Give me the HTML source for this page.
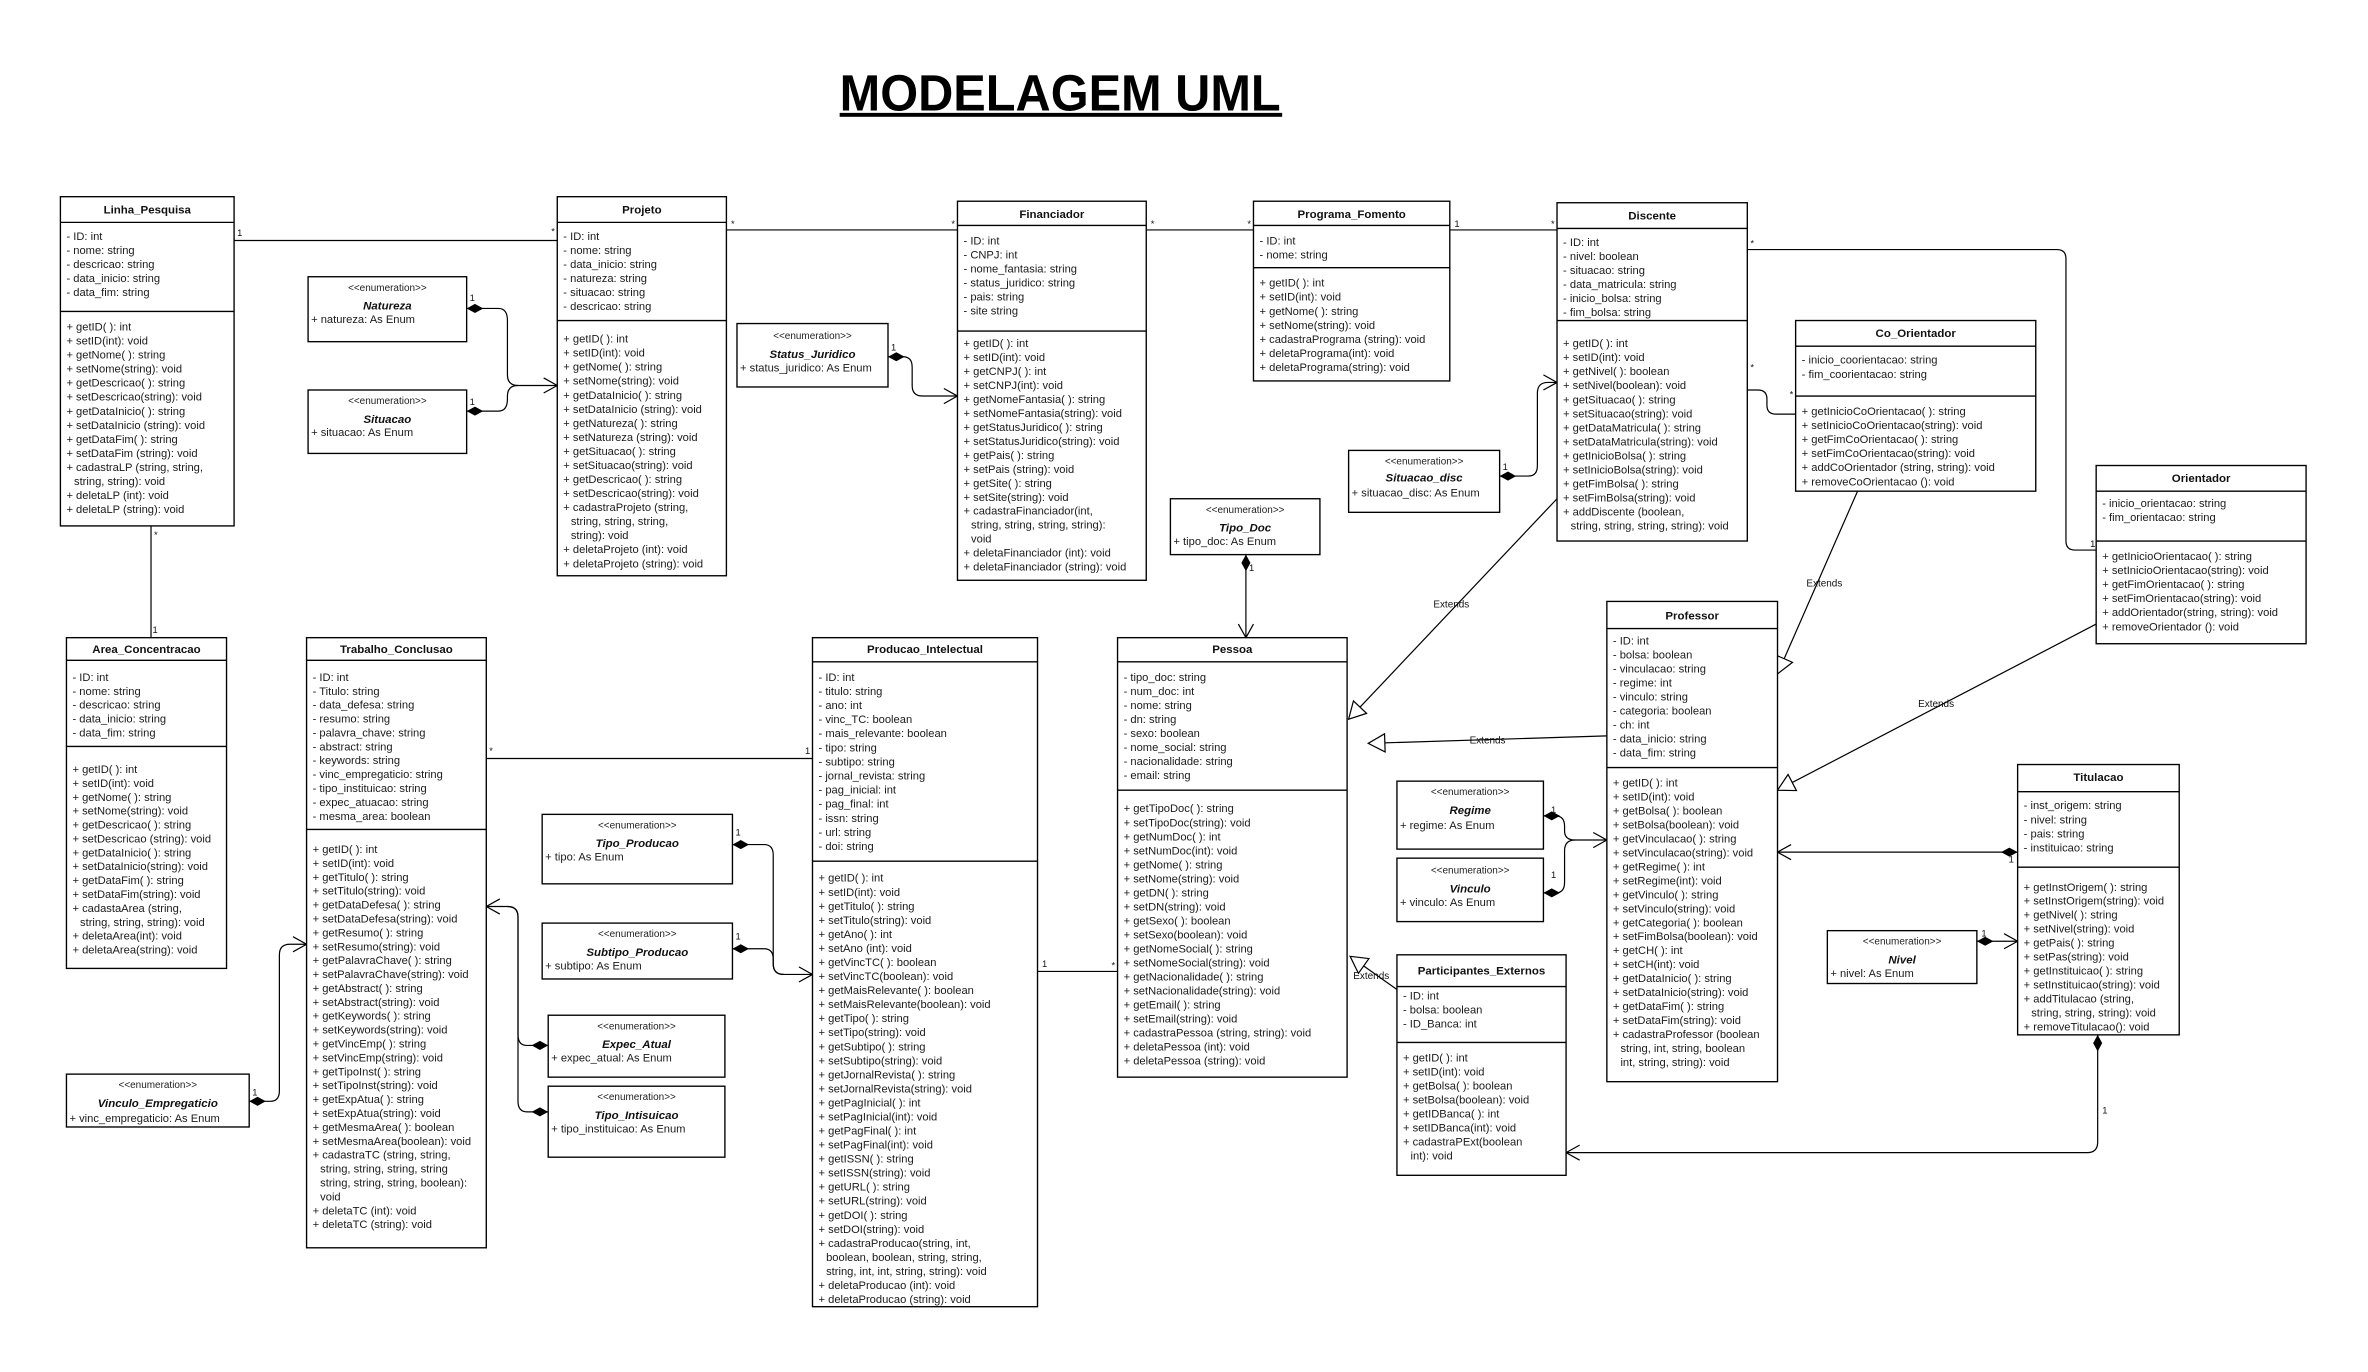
<!DOCTYPE html>
<html><head><meta charset="utf-8"><style>
html,body{margin:0;padding:0;background:#fff;}
svg{display:block;}
.t{font-family:"Liberation Sans",Arial,sans-serif;font-size:7.4px;fill:#1a1a1a;}
.h{font-family:"Liberation Sans",Arial,sans-serif;font-size:7.6px;font-weight:bold;fill:#111;text-anchor:middle;}
.s{font-family:"Liberation Sans",Arial,sans-serif;font-size:6.6px;fill:#222;text-anchor:middle;}
.n{font-family:"Liberation Sans",Arial,sans-serif;font-size:7.6px;font-weight:bold;font-style:italic;fill:#111;text-anchor:middle;}
.m{font-family:"Liberation Sans",Arial,sans-serif;font-size:6.2px;fill:#111;}
.e{font-family:"Liberation Sans",Arial,sans-serif;font-size:6.6px;fill:#111;text-anchor:middle;}
rect{fill:#fff;stroke:#000;stroke-width:0.9;}
.sep{stroke:#000;stroke-width:0.9;}
.c{fill:none;stroke:#000;stroke-width:0.8;}
</style></head><body>
<svg width="2368" height="1372" viewBox="0 0 1568 908" xmlns="http://www.w3.org/2000/svg">
<defs>
<marker id="a" markerWidth="12" markerHeight="12" refX="10" refY="6" orient="auto" markerUnits="userSpaceOnUse"><path d="M1,1 L10,6 L1,11" fill="none" stroke="#000" stroke-width="0.8"/></marker>
<marker id="d" markerWidth="14" markerHeight="8" refX="1" refY="4" orient="auto" markerUnits="userSpaceOnUse"><path d="M1,4 L6.5,1 L12,4 L6.5,7Z" fill="#000"/></marker>
<marker id="tr" markerWidth="14" markerHeight="14" refX="12" refY="7" orient="auto" markerUnits="userSpaceOnUse"><path d="M1,1 L12,7 L1,13Z" fill="#fff" stroke="#000" stroke-width="0.8"/></marker>
</defs>
<rect x="0" y="0" width="1568" height="908" style="fill:#fff;stroke:none"/>

<text x="702" y="73" text-anchor="middle" textLength="292" lengthAdjust="spacingAndGlyphs" style="font-family:'Liberation Sans',Arial,sans-serif;font-size:34px;font-weight:bold;fill:#000">MODELAGEM UML</text>
<rect x="556" y="74.5" width="293" height="2.6" style="fill:#000;stroke:none"/>

<path class="c" d="M155,159 H369"/>
<path class="c" d="M481,152 H634"/>
<path class="c" d="M759,152 H830"/>
<path class="c" d="M960,152 H1031"/>
<path class="c" d="M100,348 V422"/>
<path class="c" d="M322,502 H538"/>
<path class="c" d="M687,643 H740"/>
<path class="c" marker-start="url(#d)" marker-end="url(#a)" d="M309,204 H330 Q336,204 336,212 V248 Q336,255 343,255 H369"/>
<path class="c" marker-start="url(#d)" d="M309,272 H330 Q336,272 336,264 V262 Q336,255 343,255"/>
<path class="c" marker-start="url(#d)" marker-end="url(#a)" d="M588,236 H598 Q604,236 604,243 V255 Q604,262 611,262 H634"/>
<path class="c" marker-start="url(#d)" marker-end="url(#a)" d="M993,315 H1012 Q1018,315 1018,308 V260 Q1018,253 1025,253 H1031"/>
<path class="c" d="M1157,258 H1164 Q1170,258 1170,264 V268 Q1170,274 1176,274 H1189"/>
<path class="c" d="M1157,165 H1362 Q1368,165 1368,171 V358 Q1368,364 1374,364 H1388"/>
<path class="c" marker-start="url(#d)" marker-end="url(#a)" d="M825,367 V422"/>
<path class="c" marker-end="url(#tr)" d="M1031,330 L893,476"/>
<path class="c" marker-end="url(#tr)" d="M1230,325 L1177,446"/>
<path class="c" marker-end="url(#tr)" d="M1388,413 L1177,523"/>
<path class="c" marker-end="url(#tr)" d="M1064,487 L906,492"/>
<path class="c" marker-end="url(#tr)" d="M925,655 L894,633"/>
<path class="c" marker-start="url(#d)" marker-end="url(#a)" d="M1022,540 H1030 Q1036,540 1036,547 V550 Q1036,556 1043,556 H1064"/>
<path class="c" marker-start="url(#d)" d="M1022,591 H1030 Q1036,591 1036,584 V563 Q1036,556 1043,556"/>
<path class="c" marker-start="url(#d)" marker-end="url(#a)" d="M1336,564 H1177"/>
<path class="c" marker-start="url(#d)" marker-end="url(#a)" d="M1309,623 H1336"/>
<path class="c" marker-start="url(#d)" marker-end="url(#a)" d="M1389,685 V756 Q1389,763 1382,763 H1037"/>
<path class="c" marker-start="url(#d)" marker-end="url(#a)" d="M485,559 H506 Q512,559 512,566 V638 Q512,645 519,645 H538"/>
<path class="c" marker-start="url(#d)" d="M485,628 H506 Q512,628 512,635 V638 Q512,645 519,645"/>
<path class="c" marker-start="url(#d)" marker-end="url(#a)" d="M363,692 H349 Q343,692 343,685 V607 Q343,600 336,600 H322"/>
<path class="c" marker-start="url(#d)" d="M363,736 H349 Q343,736 343,729 V607 Q343,600 336,600"/>
<path class="c" marker-start="url(#d)" marker-end="url(#a)" d="M165,729 H179 Q185,729 185,722 V632 Q185,625 192,625 H203"/>

<g class="m">
<text x="157" y="156">1</text><text x="365" y="155">*</text>
<text x="484" y="150">*</text><text x="630" y="150">*</text>
<text x="762" y="150">*</text><text x="826" y="150">*</text>
<text x="963" y="150">1</text><text x="1027" y="150">*</text>
<text x="311" y="199">1</text><text x="311" y="268">1</text>
<text x="590" y="232">1</text><text x="995" y="311">1</text>
<text x="827" y="378">1</text><text x="101" y="419">1</text><text x="102" y="356">*</text>
<text x="1159" y="163">*</text><text x="1159" y="245">*</text><text x="1185" y="263">*</text>
<text x="1384" y="362">1</text>
<text x="324" y="499">*</text><text x="533" y="499">1</text>
<text x="690" y="640">1</text><text x="736" y="641">*</text>
<text x="487" y="553">1</text><text x="487" y="622">1</text>
<text x="365" y="688">1</text><text x="365" y="734">1</text>
<text x="167" y="725">1</text>
<text x="1027" y="538">1</text><text x="1027" y="581">1</text>
<text x="1330" y="571">1</text><text x="1312" y="620">1</text>
<text x="1392" y="737">1</text>
</g>
<g class="e">
<text x="961" y="402">Extends</text>
<text x="1208" y="388">Extends</text>
<text x="1282" y="468">Extends</text>
<text x="985" y="492">Extends</text>
<text x="908" y="648">Extends</text>
</g>

<rect x="40" y="130" width="115" height="218"/>
<line class="sep" x1="40" y1="147" x2="155" y2="147"/><line class="sep" x1="40" y1="206" x2="155" y2="206"/>
<text class="h" x="97.5" y="141">Linha_Pesquisa</text>
<text class="t" y="158.6"><tspan x="44">- ID: int</tspan><tspan x="44" dy="9.3">- nome: string</tspan><tspan x="44" dy="9.3">- descricao: string</tspan><tspan x="44" dy="9.3">- data_inicio: string</tspan><tspan x="44" dy="9.3">- data_fim: string</tspan></text>
<text class="t" y="218.6"><tspan x="44">+ getID( ): int</tspan><tspan x="44" dy="9.3">+ setID(int): void</tspan><tspan x="44" dy="9.3">+ getNome( ): string</tspan><tspan x="44" dy="9.3">+ setNome(string): void</tspan><tspan x="44" dy="9.3">+ getDescricao( ): string</tspan><tspan x="44" dy="9.3">+ setDescricao(string): void</tspan><tspan x="44" dy="9.3">+ getDataInicio( ): string</tspan><tspan x="44" dy="9.3">+ setDataInicio (string): void</tspan><tspan x="44" dy="9.3">+ getDataFim( ): string</tspan><tspan x="44" dy="9.3">+ setDataFim (string): void</tspan><tspan x="44" dy="9.3">+ cadastraLP (string, string,</tspan><tspan x="49" dy="9.3">string, string): void</tspan><tspan x="44" dy="9.3">+ deletaLP (int): void</tspan><tspan x="44" dy="9.3">+ deletaLP (string): void</tspan></text>

<rect x="369" y="130" width="112" height="251"/>
<line class="sep" x1="369" y1="147" x2="481" y2="147"/><line class="sep" x1="369" y1="212" x2="481" y2="212"/>
<text class="h" x="425" y="141">Projeto</text>
<text class="t" y="158.6"><tspan x="373">- ID: int</tspan><tspan x="373" dy="9.3">- nome: string</tspan><tspan x="373" dy="9.3">- data_inicio: string</tspan><tspan x="373" dy="9.3">- natureza: string</tspan><tspan x="373" dy="9.3">- situacao: string</tspan><tspan x="373" dy="9.3">- descricao: string</tspan></text>
<text class="t" y="226.6"><tspan x="373">+ getID( ): int</tspan><tspan x="373" dy="9.3">+ setID(int): void</tspan><tspan x="373" dy="9.3">+ getNome( ): string</tspan><tspan x="373" dy="9.3">+ setNome(string): void</tspan><tspan x="373" dy="9.3">+ getDataInicio( ): string</tspan><tspan x="373" dy="9.3">+ setDataInicio (string): void</tspan><tspan x="373" dy="9.3">+ getNatureza( ): string</tspan><tspan x="373" dy="9.3">+ setNatureza (string): void</tspan><tspan x="373" dy="9.3">+ getSituacao( ): string</tspan><tspan x="373" dy="9.3">+ setSituacao(string): void</tspan><tspan x="373" dy="9.3">+ getDescricao( ): string</tspan><tspan x="373" dy="9.3">+ setDescricao(string): void</tspan><tspan x="373" dy="9.3">+ cadastraProjeto (string,</tspan><tspan x="378" dy="9.3">string, string, string,</tspan><tspan x="378" dy="9.3">string): void</tspan><tspan x="373" dy="9.3">+ deletaProjeto (int): void</tspan><tspan x="373" dy="9.3">+ deletaProjeto (string): void</tspan></text>

<rect x="634" y="133" width="125" height="251"/>
<line class="sep" x1="634" y1="149" x2="759" y2="149"/><line class="sep" x1="634" y1="219" x2="759" y2="219"/>
<text class="h" x="696.5" y="144">Financiador</text>
<text class="t" y="161.6"><tspan x="638">- ID: int</tspan><tspan x="638" dy="9.3">- CNPJ: int</tspan><tspan x="638" dy="9.3">- nome_fantasia: string</tspan><tspan x="638" dy="9.3">- status_juridico: string</tspan><tspan x="638" dy="9.3">- pais: string</tspan><tspan x="638" dy="9.3">- site string</tspan></text>
<text class="t" y="229.6"><tspan x="638">+ getID( ): int</tspan><tspan x="638" dy="9.25">+ setID(int): void</tspan><tspan x="638" dy="9.25">+ getCNPJ( ): int</tspan><tspan x="638" dy="9.25">+ setCNPJ(int): void</tspan><tspan x="638" dy="9.25">+ getNomeFantasia( ): string</tspan><tspan x="638" dy="9.25">+ setNomeFantasia(string): void</tspan><tspan x="638" dy="9.25">+ getStatusJuridico( ): string</tspan><tspan x="638" dy="9.25">+ setStatusJuridico(string): void</tspan><tspan x="638" dy="9.25">+ getPais( ): string</tspan><tspan x="638" dy="9.25">+ setPais (string): void</tspan><tspan x="638" dy="9.25">+ getSite( ): string</tspan><tspan x="638" dy="9.25">+ setSite(string): void</tspan><tspan x="638" dy="9.25">+ cadastraFinanciador(int,</tspan><tspan x="643" dy="9.25">string, string, string, string):</tspan><tspan x="643" dy="9.25">void</tspan><tspan x="638" dy="9.25">+ deletaFinanciador (int): void</tspan><tspan x="638" dy="9.25">+ deletaFinanciador (string): void</tspan></text>

<rect x="830" y="133" width="130" height="119"/>
<line class="sep" x1="830" y1="149" x2="960" y2="149"/><line class="sep" x1="830" y1="177" x2="960" y2="177"/>
<text class="h" x="895" y="144">Programa_Fomento</text>
<text class="t" y="161.6"><tspan x="834">- ID: int</tspan><tspan x="834" dy="9.3">- nome: string</tspan></text>
<text class="t" y="189.6"><tspan x="834">+ getID( ): int</tspan><tspan x="834" dy="9.3">+ setID(int): void</tspan><tspan x="834" dy="9.3">+ getNome( ): string</tspan><tspan x="834" dy="9.3">+ setNome(string): void</tspan><tspan x="834" dy="9.3">+ cadastraPrograma (string): void</tspan><tspan x="834" dy="9.3">+ deletaPrograma(int): void</tspan><tspan x="834" dy="9.3">+ deletaPrograma(string): void</tspan></text>

<rect x="1031" y="134" width="126" height="224"/>
<line class="sep" x1="1031" y1="151" x2="1157" y2="151"/><line class="sep" x1="1031" y1="212" x2="1157" y2="212"/>
<text class="h" x="1094" y="145">Discente</text>
<text class="t" y="162.6"><tspan x="1035">- ID:  int</tspan><tspan x="1035" dy="9.3">- nivel: boolean</tspan><tspan x="1035" dy="9.3">- situacao: string</tspan><tspan x="1035" dy="9.3">- data_matricula: string</tspan><tspan x="1035" dy="9.3">- inicio_bolsa: string</tspan><tspan x="1035" dy="9.3">- fim_bolsa: string</tspan></text>
<text class="t" y="229.6"><tspan x="1035">+ getID( ): int</tspan><tspan x="1035" dy="9.3">+ setID(int): void</tspan><tspan x="1035" dy="9.3">+ getNivel( ): boolean</tspan><tspan x="1035" dy="9.3">+ setNivel(boolean): void</tspan><tspan x="1035" dy="9.3">+ getSituacao( ): string</tspan><tspan x="1035" dy="9.3">+ setSituacao(string): void</tspan><tspan x="1035" dy="9.3">+ getDataMatricula( ): string</tspan><tspan x="1035" dy="9.3">+ setDataMatricula(string): void</tspan><tspan x="1035" dy="9.3">+ getInicioBolsa( ): string</tspan><tspan x="1035" dy="9.3">+ setInicioBolsa(string): void</tspan><tspan x="1035" dy="9.3">+ getFimBolsa( ): string</tspan><tspan x="1035" dy="9.3">+ setFimBolsa(string): void</tspan><tspan x="1035" dy="9.3">+ addDiscente (boolean,</tspan><tspan x="1040" dy="9.3">string, string, string, string): void</tspan></text>

<rect x="1189" y="212" width="159" height="113"/>
<line class="sep" x1="1189" y1="229" x2="1348" y2="229"/><line class="sep" x1="1189" y1="262" x2="1348" y2="262"/>
<text class="h" x="1268.5" y="223">Co_Orientador</text>
<text class="t" y="240.6"><tspan x="1193">- inicio_coorientacao: string</tspan><tspan x="1193" dy="9.3">- fim_coorientacao: string</tspan></text>
<text class="t" y="274.6"><tspan x="1193">+ getInicioCoOrientacao( ): string</tspan><tspan x="1193" dy="9.3">+ setInicioCoOrientacao(string): void</tspan><tspan x="1193" dy="9.3">+ getFimCoOrientacao( ): string</tspan><tspan x="1193" dy="9.3">+ setFimCoOrientacao(string): void</tspan><tspan x="1193" dy="9.3">+ addCoOrientador (string, string): void</tspan><tspan x="1193" dy="9.3">+ removeCoOrientacao (): void</tspan></text>

<rect x="1388" y="308" width="139" height="118"/>
<line class="sep" x1="1388" y1="325" x2="1527" y2="325"/><line class="sep" x1="1388" y1="358" x2="1527" y2="358"/>
<text class="h" x="1457.5" y="319">Orientador</text>
<text class="t" y="335.6"><tspan x="1392">- inicio_orientacao: string</tspan><tspan x="1392" dy="9.3">- fim_orientacao: string</tspan></text>
<text class="t" y="370.6"><tspan x="1392">+ getInicioOrientacao( ): string</tspan><tspan x="1392" dy="9.3">+ setInicioOrientacao(string): void</tspan><tspan x="1392" dy="9.3">+ getFimOrientacao( ): string</tspan><tspan x="1392" dy="9.3">+ setFimOrientacao(string): void</tspan><tspan x="1392" dy="9.3">+ addOrientador(string, string): void</tspan><tspan x="1392" dy="9.3">+ removeOrientador (): void</tspan></text>

<rect x="44" y="422" width="106" height="219"/>
<line class="sep" x1="44" y1="437" x2="150" y2="437"/><line class="sep" x1="44" y1="494" x2="150" y2="494"/>
<text class="h" x="97" y="432">Area_Concentracao</text>
<text class="t" y="450.6"><tspan x="48">- ID: int</tspan><tspan x="48" dy="9.2">- nome: string</tspan><tspan x="48" dy="9.2">- descricao: string</tspan><tspan x="48" dy="9.2">- data_inicio: string</tspan><tspan x="48" dy="9.2">- data_fim: string</tspan></text>
<text class="t" y="511.6"><tspan x="48">+ getID( ): int</tspan><tspan x="48" dy="9.2">+ setID(int): void</tspan><tspan x="48" dy="9.2">+ getNome( ): string</tspan><tspan x="48" dy="9.2">+ setNome(string): void</tspan><tspan x="48" dy="9.2">+ getDescricao( ): string</tspan><tspan x="48" dy="9.2">+ setDescricao (string): void</tspan><tspan x="48" dy="9.2">+ getDataInicio( ): string</tspan><tspan x="48" dy="9.2">+ setDataInicio(string): void</tspan><tspan x="48" dy="9.2">+ getDataFim( ): string</tspan><tspan x="48" dy="9.2">+ setDataFim(string): void</tspan><tspan x="48" dy="9.2">+ cadastaArea (string,</tspan><tspan x="53" dy="9.2">string, string, string): void</tspan><tspan x="48" dy="9.2">+ deletaArea(int): void</tspan><tspan x="48" dy="9.2">+ deletaArea(string): void</tspan></text>

<rect x="203" y="422" width="119" height="404"/>
<line class="sep" x1="203" y1="437" x2="322" y2="437"/><line class="sep" x1="203" y1="549" x2="322" y2="549"/>
<text class="h" x="262.5" y="432">Trabalho_Conclusao</text>
<text class="t" y="450.6"><tspan x="207">- ID: int</tspan><tspan x="207" dy="9.2">- Titulo: string</tspan><tspan x="207" dy="9.2">- data_defesa: string</tspan><tspan x="207" dy="9.2">- resumo: string</tspan><tspan x="207" dy="9.2">- palavra_chave: string</tspan><tspan x="207" dy="9.2">- abstract: string</tspan><tspan x="207" dy="9.2">- keywords: string</tspan><tspan x="207" dy="9.2">- vinc_empregaticio: string</tspan><tspan x="207" dy="9.2">- tipo_instituicao: string</tspan><tspan x="207" dy="9.2">- expec_atuacao: string</tspan><tspan x="207" dy="9.2">- mesma_area: boolean</tspan></text>
<text class="t" y="564.6"><tspan x="207">+ getID( ): int</tspan><tspan x="207" dy="9.2">+ setID(int): void</tspan><tspan x="207" dy="9.2">+ getTitulo( ): string</tspan><tspan x="207" dy="9.2">+ setTitulo(string): void</tspan><tspan x="207" dy="9.2">+ getDataDefesa( ): string</tspan><tspan x="207" dy="9.2">+ setDataDefesa(string): void</tspan><tspan x="207" dy="9.2">+ getResumo( ): string</tspan><tspan x="207" dy="9.2">+ setResumo(string): void</tspan><tspan x="207" dy="9.2">+ getPalavraChave( ): string</tspan><tspan x="207" dy="9.2">+ setPalavraChave(string): void</tspan><tspan x="207" dy="9.2">+ getAbstract( ): string</tspan><tspan x="207" dy="9.2">+ setAbstract(string): void</tspan><tspan x="207" dy="9.2">+ getKeywords( ): string</tspan><tspan x="207" dy="9.2">+ setKeywords(string): void</tspan><tspan x="207" dy="9.2">+ getVincEmp( ): string</tspan><tspan x="207" dy="9.2">+ setVincEmp(string): void</tspan><tspan x="207" dy="9.2">+ getTipoInst( ): string</tspan><tspan x="207" dy="9.2">+ setTipoInst(string): void</tspan><tspan x="207" dy="9.2">+ getExpAtua( ): string</tspan><tspan x="207" dy="9.2">+ setExpAtua(string): void</tspan><tspan x="207" dy="9.2">+ getMesmaArea( ): boolean</tspan><tspan x="207" dy="9.2">+ setMesmaArea(boolean): void</tspan><tspan x="207" dy="9.2">+ cadastraTC (string, string,</tspan><tspan x="212" dy="9.2">string, string, string, string</tspan><tspan x="212" dy="9.2">string, string, string, boolean):</tspan><tspan x="212" dy="9.2">void</tspan><tspan x="207" dy="9.2">+ deletaTC (int): void</tspan><tspan x="207" dy="9.2">+ deletaTC (string): void</tspan></text>

<rect x="538" y="422" width="149" height="443"/>
<line class="sep" x1="538" y1="438" x2="687" y2="438"/><line class="sep" x1="538" y1="570" x2="687" y2="570"/>
<text class="h" x="612.5" y="432">Producao_Intelectual</text>
<text class="t" y="450.6"><tspan x="542">- ID: int</tspan><tspan x="542" dy="9.33">- titulo: string</tspan><tspan x="542" dy="9.33">- ano: int</tspan><tspan x="542" dy="9.33">- vinc_TC: boolean</tspan><tspan x="542" dy="9.33">- mais_relevante: boolean</tspan><tspan x="542" dy="9.33">- tipo: string</tspan><tspan x="542" dy="9.33">- subtipo: string</tspan><tspan x="542" dy="9.33">- jornal_revista: string</tspan><tspan x="542" dy="9.33">- pag_inicial: int</tspan><tspan x="542" dy="9.33">- pag_final: int</tspan><tspan x="542" dy="9.33">- issn: string</tspan><tspan x="542" dy="9.33">- url: string</tspan><tspan x="542" dy="9.33">- doi: string</tspan></text>
<text class="t" y="583.6"><tspan x="542">+ getID( ): int</tspan><tspan x="542" dy="9.3">+ setID(int): void</tspan><tspan x="542" dy="9.3">+ getTitulo( ): string</tspan><tspan x="542" dy="9.3">+ setTitulo(string): void</tspan><tspan x="542" dy="9.3">+ getAno( ): int</tspan><tspan x="542" dy="9.3">+ setAno (int): void</tspan><tspan x="542" dy="9.3">+ getVincTC( ): boolean</tspan><tspan x="542" dy="9.3">+ setVincTC(boolean): void</tspan><tspan x="542" dy="9.3">+ getMaisRelevante( ): boolean</tspan><tspan x="542" dy="9.3">+ setMaisRelevante(boolean): void</tspan><tspan x="542" dy="9.3">+ getTipo( ): string</tspan><tspan x="542" dy="9.3">+ setTipo(string): void</tspan><tspan x="542" dy="9.3">+ getSubtipo( ): string</tspan><tspan x="542" dy="9.3">+ setSubtipo(string): void</tspan><tspan x="542" dy="9.3">+ getJornalRevista( ): string</tspan><tspan x="542" dy="9.3">+ setJornalRevista(string): void</tspan><tspan x="542" dy="9.3">+ getPagInicial( ): int</tspan><tspan x="542" dy="9.3">+ setPagInicial(int): void</tspan><tspan x="542" dy="9.3">+ getPagFinal( ): int</tspan><tspan x="542" dy="9.3">+ setPagFinal(int): void</tspan><tspan x="542" dy="9.3">+ getISSN( ): string</tspan><tspan x="542" dy="9.3">+ setISSN(string): void</tspan><tspan x="542" dy="9.3">+ getURL( ): string</tspan><tspan x="542" dy="9.3">+ setURL(string): void</tspan><tspan x="542" dy="9.3">+ getDOI( ): string</tspan><tspan x="542" dy="9.3">+ setDOI(string): void</tspan><tspan x="542" dy="9.3">+ cadastraProducao(string, int,</tspan><tspan x="547" dy="9.3">boolean, boolean, string, string,</tspan><tspan x="547" dy="9.3">string, int, int, string, string): void</tspan><tspan x="542" dy="9.3">+ deletaProducao (int): void</tspan><tspan x="542" dy="9.3">+ deletaProducao (string): void</tspan></text>

<rect x="740" y="422" width="152" height="291"/>
<line class="sep" x1="740" y1="438" x2="892" y2="438"/><line class="sep" x1="740" y1="523" x2="892" y2="523"/>
<text class="h" x="816" y="432">Pessoa</text>
<text class="t" y="450.6"><tspan x="744">- tipo_doc: string</tspan><tspan x="744" dy="9.3">- num_doc: int</tspan><tspan x="744" dy="9.3">- nome: string</tspan><tspan x="744" dy="9.3">- dn: string</tspan><tspan x="744" dy="9.3">- sexo: boolean</tspan><tspan x="744" dy="9.3">- nome_social: string</tspan><tspan x="744" dy="9.3">- nacionalidade: string</tspan><tspan x="744" dy="9.3">- email: string</tspan></text>
<text class="t" y="537.6"><tspan x="744">+ getTipoDoc( ): string</tspan><tspan x="744" dy="9.28">+ setTipoDoc(string): void</tspan><tspan x="744" dy="9.28">+ getNumDoc( ): int</tspan><tspan x="744" dy="9.28">+ setNumDoc(int): void</tspan><tspan x="744" dy="9.28">+ getNome( ): string</tspan><tspan x="744" dy="9.28">+ setNome(string): void</tspan><tspan x="744" dy="9.28">+ getDN( ): string</tspan><tspan x="744" dy="9.28">+ setDN(string): void</tspan><tspan x="744" dy="9.28">+ getSexo( ): boolean</tspan><tspan x="744" dy="9.28">+ setSexo(boolean): void</tspan><tspan x="744" dy="9.28">+ getNomeSocial( ): string</tspan><tspan x="744" dy="9.28">+ setNomeSocial(string): void</tspan><tspan x="744" dy="9.28">+ getNacionalidade( ): string</tspan><tspan x="744" dy="9.28">+ setNacionalidade(string): void</tspan><tspan x="744" dy="9.28">+ getEmail( ): string</tspan><tspan x="744" dy="9.28">+ setEmail(string): void</tspan><tspan x="744" dy="9.28">+ cadastraPessoa (string, string): void</tspan><tspan x="744" dy="9.28">+ deletaPessoa (int): void</tspan><tspan x="744" dy="9.28">+ deletaPessoa (string): void</tspan></text>

<rect x="1064" y="398" width="113" height="318"/>
<line class="sep" x1="1064" y1="416" x2="1177" y2="416"/><line class="sep" x1="1064" y1="508" x2="1177" y2="508"/>
<text class="h" x="1120.5" y="410">Professor</text>
<text class="t" y="426.6"><tspan x="1068">- ID: int</tspan><tspan x="1068" dy="9.25">- bolsa: boolean</tspan><tspan x="1068" dy="9.25">- vinculacao: string</tspan><tspan x="1068" dy="9.25">- regime: int</tspan><tspan x="1068" dy="9.25">- vinculo: string</tspan><tspan x="1068" dy="9.25">- categoria: boolean</tspan><tspan x="1068" dy="9.25">- ch: int</tspan><tspan x="1068" dy="9.25">- data_inicio: string</tspan><tspan x="1068" dy="9.25">- data_fim: string</tspan></text>
<text class="t" y="520.6"><tspan x="1068">+ getID( ): int</tspan><tspan x="1068" dy="9.25">+ setID(int): void</tspan><tspan x="1068" dy="9.25">+ getBolsa( ): boolean</tspan><tspan x="1068" dy="9.25">+ setBolsa(boolean): void</tspan><tspan x="1068" dy="9.25">+ getVinculacao( ): string</tspan><tspan x="1068" dy="9.25">+ setVinculacao(string): void</tspan><tspan x="1068" dy="9.25">+ getRegime( ): int</tspan><tspan x="1068" dy="9.25">+ setRegime(int): void</tspan><tspan x="1068" dy="9.25">+ getVinculo( ): string</tspan><tspan x="1068" dy="9.25">+ setVinculo(string): void</tspan><tspan x="1068" dy="9.25">+ getCategoria( ): boolean</tspan><tspan x="1068" dy="9.25">+ setFimBolsa(boolean): void</tspan><tspan x="1068" dy="9.25">+ getCH( ): int</tspan><tspan x="1068" dy="9.25">+ setCH(int): void</tspan><tspan x="1068" dy="9.25">+ getDataInicio( ): string</tspan><tspan x="1068" dy="9.25">+ setDataInicio(string): void</tspan><tspan x="1068" dy="9.25">+ getDataFim( ): string</tspan><tspan x="1068" dy="9.25">+ setDataFim(string): void</tspan><tspan x="1068" dy="9.25">+ cadastraProfessor (boolean</tspan><tspan x="1073" dy="9.25">string, int, string, boolean</tspan><tspan x="1073" dy="9.25">int, string, string): void</tspan></text>

<rect x="1336" y="506" width="107" height="179"/>
<line class="sep" x1="1336" y1="524" x2="1443" y2="524"/><line class="sep" x1="1336" y1="574" x2="1443" y2="574"/>
<text class="h" x="1389.5" y="517">Titulacao</text>
<text class="t" y="535.6"><tspan x="1340">- inst_origem: string</tspan><tspan x="1340" dy="9.3">- nivel: string</tspan><tspan x="1340" dy="9.3">- pais: string</tspan><tspan x="1340" dy="9.3">- instituicao: string</tspan></text>
<text class="t" y="589.6"><tspan x="1340">+ getInstOrigem( ): string</tspan><tspan x="1340" dy="9.25">+ setInstOrigem(string): void</tspan><tspan x="1340" dy="9.25">+ getNivel( ): string</tspan><tspan x="1340" dy="9.25">+ setNivel(string): void</tspan><tspan x="1340" dy="9.25">+ getPais( ): string</tspan><tspan x="1340" dy="9.25">+ setPas(string): void</tspan><tspan x="1340" dy="9.25">+ getInstituicao( ): string</tspan><tspan x="1340" dy="9.25">+ setInstituicao(string): void</tspan><tspan x="1340" dy="9.25">+ addTitulacao (string,</tspan><tspan x="1345" dy="9.25">string, string, string): void</tspan><tspan x="1340" dy="9.25">+ removeTitulacao(): void</tspan></text>

<rect x="925" y="632" width="112" height="146"/>
<line class="sep" x1="925" y1="653" x2="1037" y2="653"/><line class="sep" x1="925" y1="690" x2="1037" y2="690"/>
<text class="h" x="981" y="645">Participantes_Externos</text>
<text class="t" y="661.6"><tspan x="929">- ID: int</tspan><tspan x="929" dy="9.3">- bolsa: boolean</tspan><tspan x="929" dy="9.3">- ID_Banca: int</tspan></text>
<text class="t" y="702.6"><tspan x="929">+ getID( ): int</tspan><tspan x="929" dy="9.3">+ setID(int): void</tspan><tspan x="929" dy="9.3">+ getBolsa( ): boolean</tspan><tspan x="929" dy="9.3">+ setBolsa(boolean): void</tspan><tspan x="929" dy="9.3">+ getIDBanca( ): int</tspan><tspan x="929" dy="9.3">+ setIDBanca(int): void</tspan><tspan x="929" dy="9.3">+ cadastraPExt(boolean</tspan><tspan x="934" dy="9.3">int): void</tspan></text>

<rect x="204" y="183" width="105" height="43"/><text class="s" x="256.5" y="192.3">&lt;&lt;enumeration&gt;&gt;</text><text class="n" x="256.5" y="204.7">Natureza</text><text class="t" x="206" y="213.6">+ natureza: As Enum</text>
<rect x="204" y="258" width="105" height="42"/><text class="s" x="256.5" y="267.3">&lt;&lt;enumeration&gt;&gt;</text><text class="n" x="256.5" y="279.7">Situacao</text><text class="t" x="206" y="288.6">+ situacao: As Enum</text>
<rect x="488" y="214" width="100" height="42"/><text class="s" x="538" y="224.3">&lt;&lt;enumeration&gt;&gt;</text><text class="n" x="538" y="236.7">Status_Juridico</text><text class="t" x="490" y="245.6">+ status_juridico: As Enum</text>
<rect x="893" y="298" width="100" height="41"/><text class="s" x="943" y="307.3">&lt;&lt;enumeration&gt;&gt;</text><text class="n" x="943" y="318.7">Situacao_disc</text><text class="t" x="895" y="328.6">+ situacao_disc: As Enum</text>
<rect x="775" y="330" width="99" height="37"/><text class="s" x="824.5" y="339.3">&lt;&lt;enumeration&gt;&gt;</text><text class="n" x="824.5" y="351.7">Tipo_Doc</text><text class="t" x="777" y="360.6">+ tipo_doc: As Enum</text>
<rect x="925" y="517" width="97" height="45"/><text class="s" x="973.5" y="526.3">&lt;&lt;enumeration&gt;&gt;</text><text class="n" x="973.5" y="538.7">Regime</text><text class="t" x="927" y="548.6">+ regime: As Enum</text>
<rect x="925" y="568" width="97" height="42"/><text class="s" x="973.5" y="578.3">&lt;&lt;enumeration&gt;&gt;</text><text class="n" x="973.5" y="590.7">Vinculo</text><text class="t" x="927" y="599.6">+ vinculo: As Enum</text>
<rect x="1210" y="616" width="99" height="35"/><text class="s" x="1259.5" y="625.3">&lt;&lt;enumeration&gt;&gt;</text><text class="n" x="1259.5" y="637.7">Nivel</text><text class="t" x="1212" y="646.6">+ nivel: As Enum</text>
<rect x="359" y="539" width="126" height="46"/><text class="s" x="422" y="548.3">&lt;&lt;enumeration&gt;&gt;</text><text class="n" x="422" y="560.7">Tipo_Producao</text><text class="t" x="361" y="569.6">+ tipo: As Enum</text>
<rect x="359" y="611" width="126" height="37"/><text class="s" x="422" y="620.3">&lt;&lt;enumeration&gt;&gt;</text><text class="n" x="422" y="632.7">Subtipo_Producao</text><text class="t" x="361" y="641.6">+ subtipo: As Enum</text>
<rect x="363" y="672" width="117" height="41"/><text class="s" x="421.5" y="681.3">&lt;&lt;enumeration&gt;&gt;</text><text class="n" x="421.5" y="693.7">Expec_Atual</text><text class="t" x="365" y="702.6">+ expec_atual: As Enum</text>
<rect x="363" y="719" width="117" height="47"/><text class="s" x="421.5" y="728.3">&lt;&lt;enumeration&gt;&gt;</text><text class="n" x="421.5" y="740.7">Tipo_Intisuicao</text><text class="t" x="365" y="749.6">+ tipo_instituicao: As Enum</text>
<rect x="44" y="711" width="121" height="35"/><text class="s" x="104.5" y="720.3">&lt;&lt;enumeration&gt;&gt;</text><text class="n" x="104.5" y="732.7">Vinculo_Empregaticio</text><text class="t" x="46" y="742.6">+ vinc_empregaticio: As Enum</text>
</svg>
</body></html>
